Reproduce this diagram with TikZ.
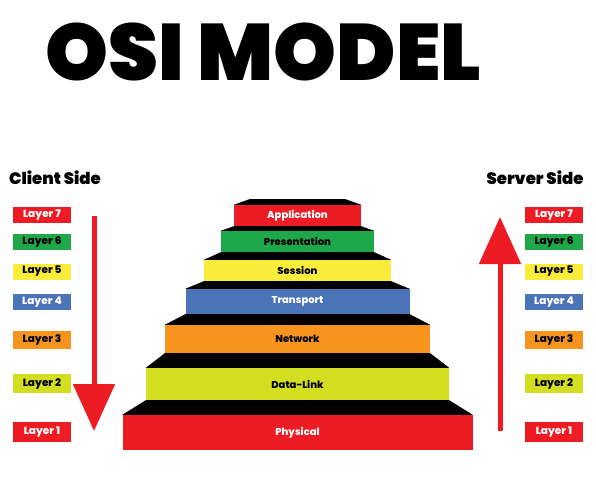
\documentclass[tikz,border=0pt]{standalone}
\usepackage{fontspec}
\usetikzlibrary{arrows.meta}
\newfontfamily\heavyfont{Poppins Black}
\newfontfamily\boldfont{Poppins}[UprightFont=* ExtraBold]
\definecolor{osired}{HTML}{ED1C24}
\definecolor{osigreen}{HTML}{1FA84A}
\definecolor{osiyellow}{HTML}{F9EC3B}
\definecolor{osiblue}{HTML}{4B73B8}
\definecolor{osiorange}{HTML}{F7941D}
\definecolor{osilime}{HTML}{D4DE21}
\tikzset{
  layerbox/.style={minimum width=58pt, minimum height=16pt, inner sep=0pt, font=\boldfont\fontsize{10.5}{10.5}\selectfont},
  stepbox/.style={inner sep=0pt, font=\boldfont\fontsize{10}{10}\selectfont},
  tread/.style={fill=black},
  bigarrow/.style={draw=osired, line width=5pt, -{Triangle[length=47pt,width=41pt]}},
  sidelabel/.style={font=\heavyfont\fontsize{16.5}{16.5}\selectfont, inner sep=0pt}
}
\begin{document}
\begin{tikzpicture}[x=1pt,y=-1pt]
\useasboundingbox[fill=white] (0,0) rectangle (596,503);
% title
\node[font=\heavyfont\fontsize{80}{80}\selectfont, inner sep=0pt] (title) at (263,52) {OSI MODEL};
% side labels
\node[sidelabel] (client) at (55,178) {Client Side};
\node[sidelabel] (server) at (535,178) {Server Side};
% steps
\node[stepbox, fill=osired, minimum width=127pt, minimum height=21pt, text=white] (app) at (297.5,215.5) {Application};
\node[stepbox, fill=osigreen, minimum width=153pt, minimum height=21pt] (pres) at (297.5,241.5) {Presentation};
\node[stepbox, fill=osiyellow, minimum width=187pt, minimum height=21pt] (sess) at (297.5,270.5) {Session};
\node[stepbox, fill=osiblue, minimum width=224pt, minimum height=25pt, text=white] (trans) at (297.5,301.5) {Transport};
\node[stepbox, fill=osiorange, minimum width=265pt, minimum height=28pt] (net) at (297.5,339) {Network};
\node[stepbox, fill=osilime, minimum width=303pt, minimum height=32pt] (dl) at (297.5,384) {Data-Link};
\node[stepbox, fill=osired, minimum width=350pt, minimum height=35pt, text=white] (phys) at (297.5,432.5) {Physical};
% treads
\coordinate (topl) at (250,199);
\coordinate (topr) at (345,199);
\fill[tread] (topl) -- (topr) -- (app.north east) -- (app.north west) -- cycle;
\fill[tread] (app.south west) -- (app.south east) -- (pres.north east) -- (pres.north west) -- cycle;
\fill[tread] (pres.south west) -- (pres.south east) -- (sess.north east) -- (sess.north west) -- cycle;
\fill[tread] (sess.south west) -- (sess.south east) -- (trans.north east) -- (trans.north west) -- cycle;
\fill[tread] (trans.south west) -- (trans.south east) -- (net.north east) -- (net.north west) -- cycle;
\fill[tread] (net.south west) -- (net.south east) -- (dl.north east) -- (dl.north west) -- cycle;
\fill[tread] (dl.south west) -- (dl.south east) -- (phys.north east) -- (phys.north west) -- cycle;
% left layer boxes
\node[layerbox, fill=osired, text=white] (l7) at (42,215) {Layer 7};
\node[layerbox, fill=osigreen] (l6) at (42,242) {Layer 6};
\node[layerbox, fill=osiyellow] (l5) at (42,271.5) {Layer 5};
\node[layerbox, fill=osiblue, text=white] (l4) at (42,302) {Layer 4};
\node[layerbox, fill=osiorange, minimum height=18pt] (l3) at (42,340) {Layer 3};
\node[layerbox, fill=osilime, minimum height=19pt] (l2) at (42,383.5) {Layer 2};
\node[layerbox, fill=osired, text=white, minimum height=20pt] (l1) at (42,432) {Layer 1};
% right layer boxes
\node[layerbox, fill=osired, text=white] (r7) at (554,215) {Layer 7};
\node[layerbox, fill=osigreen] (r6) at (554,242) {Layer 6};
\node[layerbox, fill=osiyellow] (r5) at (554,271.5) {Layer 5};
\node[layerbox, fill=osiblue, text=white] (r4) at (554,302) {Layer 4};
\node[layerbox, fill=osiorange, minimum height=18pt] (r3) at (554,340) {Layer 3};
\node[layerbox, fill=osilime, minimum height=19pt] (r2) at (554,383.5) {Layer 2};
\node[layerbox, fill=osired, text=white, minimum height=20pt] (r1) at (554,432) {Layer 1};
% arrows
\coordinate (ls) at (94,216);
\coordinate (le) at (94,431);
\coordinate (rs) at (500,431);
\coordinate (re) at (500,217);
\draw[bigarrow] (ls) -- (le);
\draw[bigarrow] (rs) -- (re);
\end{tikzpicture}
\end{document}
